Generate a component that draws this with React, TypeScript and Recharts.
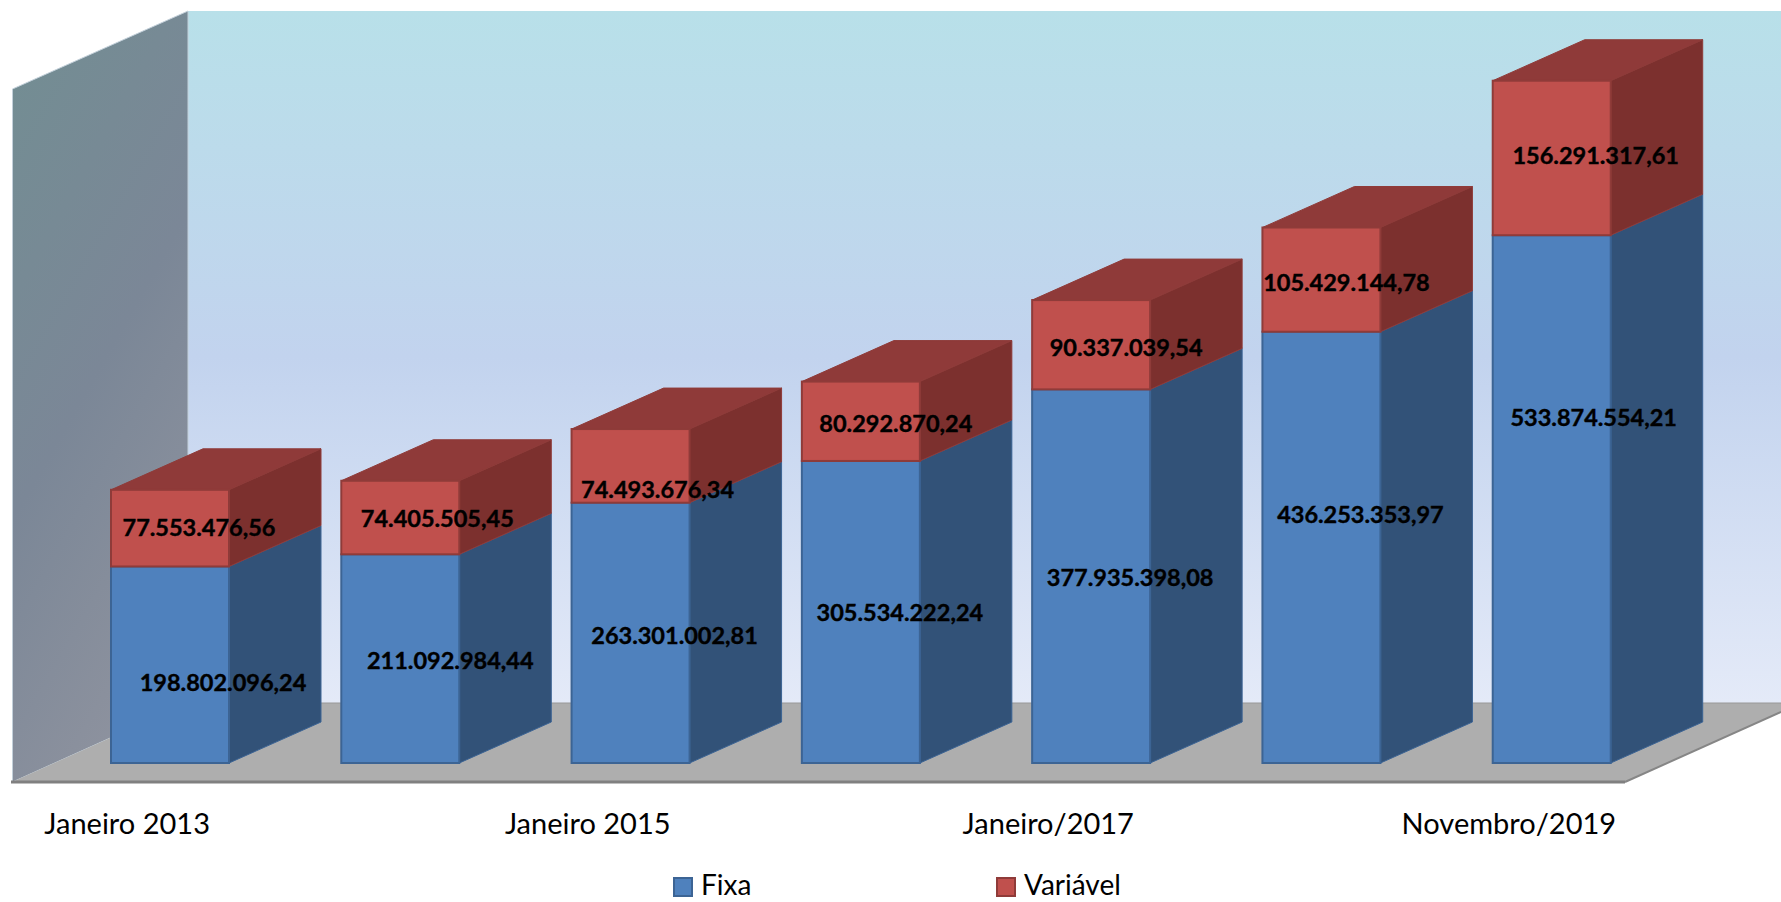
import React from "react";
import { BarChart, Bar, XAxis, YAxis, Legend, LabelList, Customized } from "recharts";

const categories = ["Janeiro 2013", "Janeiro 2014", "Janeiro 2015", "Janeiro 2016", "Janeiro/2017", "Janeiro/2018", "Novembro/2019"];
const fixa = [198802096.24, 211092984.44, 263301002.81, 305534222.24, 377935398.08, 436253353.97, 533874554.21];
const variavel = [77553476.56, 74405505.45, 74493676.34, 80292870.24, 90337039.54, 105429144.78, 156291317.61];

const fixaNudge = [[53, 18], [50, 2], [44, 3], [39, 1], [39, 2], [39, -33], [42, -81]];
const variavelNudge = [[29, 0], [37, 1], [27, 24], [35, 3], [35, 3], [25, 3], [44, -2]];

const rows = categories.map((name, i) => ({ name, fixa: fixa[i], variavel: variavel[i] }));

const FONT = "Lato, Carlito, sans-serif";
const W = 1781;
const H = 902;
const DX = 92;
const DY = 41;

const brl = (v: number) => v.toLocaleString("pt-BR", { minimumFractionDigits: 2, maximumFractionDigits: 2 });

const palette: Record<string, { front: string; side: string; top: string; edge: string }> = {
  "#4f81bd": { front: "#4f81bd", side: "#325278", top: "#3a5f8c", edge: "#3c6494" },
  "#c0504d": { front: "#c0504d", side: "#7c302e", top: "#8f3a39", edge: "#8f3b39" },
};

function Box3D(props: any) {
  const { x, y, width, height, fill } = props;
  const c = palette[fill];
  const r = x + width;
  const b = y + height;
  return (
    <g>
      <polygon points={`${x},${y} ${x + DX},${y - DY} ${r + DX},${y - DY} ${r},${y}`} fill={c.top} stroke={c.edge} strokeWidth={1} />
      <polygon points={`${r},${y} ${r + DX},${y - DY} ${r + DX},${b - DY} ${r},${b}`} fill={c.side} stroke={c.edge} strokeWidth={1} />
      <rect x={x} y={y} width={width} height={height} fill={c.front} stroke={c.edge} strokeWidth={2} />
    </g>
  );
}

function Backdrop() {
  return (
    <g>
      <defs>
        <linearGradient id="backWall" x1="0" y1="0" x2="0" y2="1">
          <stop offset="0" stopColor="#b8e0e9" />
          <stop offset="0.5" stopColor="#c2d3ee" />
          <stop offset="1" stopColor="#e4eaf8" />
        </linearGradient>
        <linearGradient id="sideWall" x1="0.2" y1="0" x2="0.6" y2="1">
          <stop offset="0" stopColor="#738d93" />
          <stop offset="0.5" stopColor="#7b8797" />
          <stop offset="1" stopColor="#8f939f" />
        </linearGradient>
      </defs>
      <rect x={188} y={11} width={W - 188} height={692} fill="url(#backWall)" />
      <polygon points="12.5,89 188,11 188,703 12.5,782" fill="url(#sideWall)" stroke="#c3d0da" strokeWidth={1} />
      <polygon points={`12,782 188,703 ${W},703 ${W},712 1625,782`} fill="#aeaeae" />
      <line x1={188} y1={703} x2={W} y2={703} stroke="#989898" strokeWidth={1} />
      <line x1={1625} y1={782} x2={W} y2={712} stroke="#868686" strokeWidth={2} />
      <line x1={11} y1={782} x2={1625} y2={782} stroke="#808080" strokeWidth={3} />
    </g>
  );
}

function AxisTick(props: any) {
  const { x, y, payload } = props;
  return (
    <text x={x - 43} y={y + 63} textAnchor="middle" fontFamily={FONT} fontSize={29} fill="#000">
      {payload.value}
    </text>
  );
}

function makeLabel(nudges: number[][]) {
  return function ValueLabel(props: any) {
    const { x, y, width, height, value, index } = props;
    const [nx, ny] = nudges[index];
    return (
      <text x={x + width / 2 + nx} y={y + height / 2 + ny} dy="0.35em" textAnchor="middle" fontFamily={FONT} fontWeight={700} fontSize={23.5} fill="#000" stroke="#000" strokeWidth={0.4}>
        {brl(value)}
      </text>
    );
  };
}

function LegendBox(props: any) {
  const items = props.payload || [];
  const lefts = [673, 996];
  return (
    <div style={{ position: "relative", width: W, height: 28 }}>
      {items.map((it: any, i: number) => (
        <div key={it.value} style={{ position: "absolute", left: lefts[i], top: 0, display: "flex", alignItems: "center", height: 28 }}>
          <span style={{ display: "inline-block", width: 16, height: 16, background: it.color, border: `2px solid ${palette[it.color].edge}`, marginRight: 8, transform: "translateY(3px)" }} />
          <span style={{ fontFamily: FONT, fontSize: 28, color: "#000", lineHeight: "28px" }}>{it.value}</span>
        </div>
      ))}
    </div>
  );
}

export default function App() {
  return (
    <div style={{ position: "absolute", left: 0, top: 0, width: W, height: H, background: "#fff", overflow: "hidden" }}>
      <BarChart width={W} height={H} data={rows} margin={{ top: 71, right: 114, bottom: 109, left: 55 }} barSize={118}>
        <Customized component={Backdrop} />
        <XAxis dataKey="name" interval={1} axisLine={false} tickLine={false} height={30} tick={AxisTick} />
        <YAxis hide domain={[0, 700000000]} />
        <Legend verticalAlign="middle" content={LegendBox} wrapperStyle={{ left: 0, top: 870, width: W }} />
        <Bar dataKey="fixa" name="Fixa" stackId="a" fill="#4f81bd" shape={Box3D} isAnimationActive={false}>
          <LabelList dataKey="fixa" content={makeLabel(fixaNudge)} />
        </Bar>
        <Bar dataKey="variavel" name="Variável" stackId="a" fill="#c0504d" shape={Box3D} isAnimationActive={false}>
          <LabelList dataKey="variavel" content={makeLabel(variavelNudge)} />
        </Bar>
      </BarChart>
    </div>
  );
}
